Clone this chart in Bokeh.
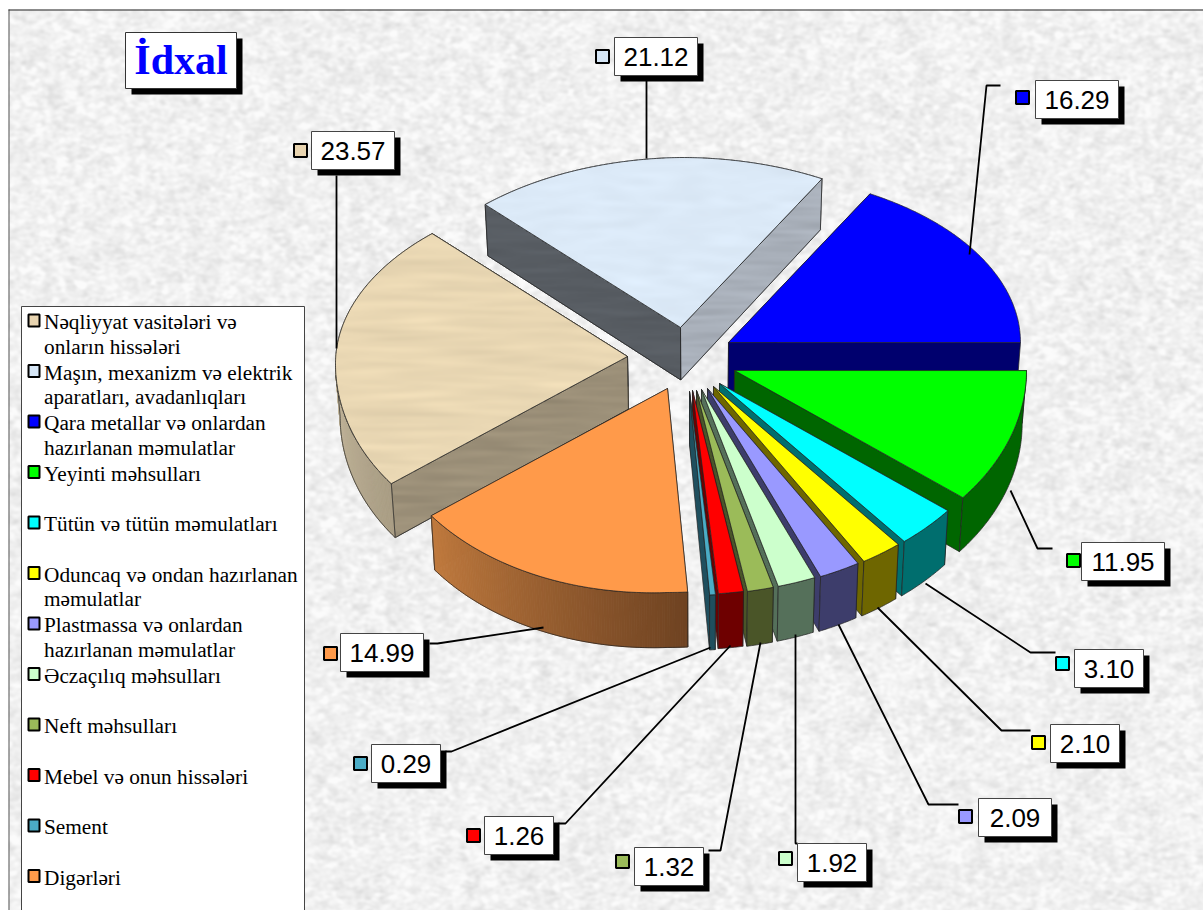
import numpy as np
from bokeh.plotting import figure
from bokeh.embed import file_html
from bokeh.resources import INLINE
from bokeh.core.properties import value

# ---- data ----
TITLE = "İdxal"
LEGEND_LINES = [
    ["Nəqliyyat vasitələri və", "onların hissələri"],
    ["Maşın, mexanizm və elektrik", "aparatları, avadanlıqları"],
    ["Qara metallar və onlardan", "hazırlanan məmulatlar"],
    ["Yeyinti məhsulları"],
    ["Tütün və tütün məmulatları"],
    ["Oduncaq və ondan hazırlanan", "məmulatlar"],
    ["Plastmassa və onlardan", "hazırlanan məmulatlar"],
    ["Əczaçılıq məhsulları"],
    ["Neft məhsulları"],
    ["Mebel və onun hissələri"],
    ["Sement"],
    ["Digərləri"],
]
VALUES = [23.57, 21.12, 16.29, 11.95, 3.10, 2.10, 2.09, 1.92, 1.32, 1.26, 0.29, 14.99]
TOP_COLORS = ["#EAD8B4", "#DCEAF8", "#0000FF", "#00FF00", "#00FFFF", "#FFFF00",
              "#9999FF", "#CCFFCC", "#9BBB59", "#FF0000", "#4BACC6", "#FF9A4A"]
WALL_START = ["#9C9079", "#585D63", "#00006E", "#006600", "#006E6E", "#6E6600",
              "#3D3D6B", "#55705A", "#4A5528", "#6E0000", "#1F4F5E", "#7A4A28"]
WALL_END = ["#9C9079", "#A9B0BA", "#00006E", "#006600", "#006E6E", "#6E6600",
            "#3D3D6B", "#55705A", "#4A5528", "#6E0000", "#1F4F5E", "#7A4A28"]
KEY_COLORS = ["#E8D4B0", "#D6E6F6", "#0000FF", "#00FF00", "#00FFFF", "#FFFF00",
              "#9999FF", "#CCFFCC", "#9BBB59", "#FF0000", "#4BACC6", "#FF9A4A"]

# ---- layout (page pixels, y down) ----
W, H = 1203, 910
CENTER = (695, 375)
EXPLODE = [(-68, -19), (-15, -48), (33, -33), (39, -5), (24, 8), (18, 11),
           (12, 13), (6, 14), (1, 15), (-3, 15), (-6, 16), (-28, 13)]
RX, RY_BACK, RY_FRONT, LEAN = 292, 170, 204, 0.013
SHEAR_MID, SHEAR_SPAN = 0.025, 0.01
DEPTH_Y = [181, 600]
DEPTH_V = [51, 55]
START = 144.0
WARP_D = [0, 85, 161, 219.5, 262.5, 306, 360]
WARP_T = [0, -0.85, -5.9, -3.5, -8, -4, 0]
DRAW_ORDER = [1, 2, 0, 3, 4, 5, 6, 7, 8, 9, 10, 11]

BOXES = [(311, 131, 83), (614, 37, 83), (1035, 80, 83), (1081, 542, 83), (1074, 649, 69),
         (1050, 724, 69), (978, 798, 73), (797, 843, 69), (634, 847, 69), (484, 816, 69),
         (371, 744, 69), (340, 633, 83)]
BOX_H = 38
KEYS = [(300, 150), (602, 56), (1022, 97), (1073, 560), (1062, 663), (1038, 742),
        (965, 816), (785, 858), (622, 861), (473, 835), (360, 763), (330, 653)]
LEADERS = [
    [(336, 175), (336, 348)],
    [(646, 79), (646, 158)],
    [(1000, 85), (986, 85), (969, 254)],
    [(1052, 548), (1037, 548), (1010, 490)],
    [(1055, 652), (1030, 652), (925, 583)],
    [(1030, 730), (1001, 730), (877, 607)],
    [(958, 804), (928, 804), (838, 624)],
    [(797, 843), (795, 843), (795, 634)],
    [(708, 850), (720, 850), (760, 642)],
    [(558, 823), (565, 823), (730, 645)],
    [(445, 751), (451, 751), (710, 647)],
    [(429, 643), (437, 643), (543, 627)],
]
LEG_X0, LEG_X1, LEG_Y0 = 21, 304, 306
LEG_STEP = 50.5
LEG_FIRST = 320
LEG_LINE = 24.6
FRAME_X, FRAME_Y = 8, 9


def Y(y):
    return 910 - np.asarray(y, dtype=float)


# the drawing already holds the picture's own white margin, so it sits at the window's origin
p = figure(width=W, height=H, x_range=(0, W), y_range=(0, H), toolbar_location=None,
           output_backend="svg", min_border=0, outline_line_color=None,
           styles={"position": "absolute", "left": "0px", "top": "0px"})
p.xaxis.visible = False
p.yaxis.visible = False
p.xgrid.visible = False
p.ygrid.visible = False


def noise(h, w, sx, sy, seed):
    yy, xx = np.mgrid[0:h, 0:w]
    n = np.sin(xx * 12.9898 + yy * 78.233 + seed * 3.17) * 43758.5453
    n = n - np.floor(n) - 0.5
    fy = np.fft.fftfreq(h)[:, None]
    fx = np.fft.fftfreq(w)[None, :]
    g = np.exp(-2 * np.pi ** 2 * ((fx * sx) ** 2 + (fy * sy) ** 2))
    n = np.real(np.fft.ifft2(np.fft.fft2(n) * g))
    return n / (n.std() + 1e-9)


def to_img(rgb, alpha=None):
    h, w = rgb.shape[:2]
    a = np.full((h, w), 255, dtype=np.uint32) if alpha is None else alpha.astype(np.uint32)
    c = np.clip(rgb, 0, 255).astype(np.uint32)
    return np.flipud(c[..., 0] | (c[..., 1] << 8) | (c[..., 2] << 16) | (a << 24))


# background texture
bg_n = 0.7 * noise(H, W, 2.0, 1.5, 1) + 0.4 * noise(H, W, 4, 3, 2)
bg = 241 + 6.5 * np.clip(bg_n, -3.0, 1.6)
bg_rgb = np.dstack([bg, bg, bg])
bg_rgb[:FRAME_Y, :] = 255
bg_rgb[:, :FRAME_X] = 255
p.image_rgba(image=[to_img(bg_rgb)], x=0, y=0, dw=W, dh=H)
p.line([FRAME_X + 0.5, FRAME_X + 0.5], [0, float(Y(FRAME_Y))], line_color="#555555", line_width=1)
p.line([FRAME_X, W], [float(Y(FRAME_Y)) - 0.5] * 2, line_color="#222222", line_width=1)


def in_poly(xs, ys, poly):
    X, Yy = np.meshgrid(xs, ys)
    m = np.zeros(X.shape, dtype=bool)
    px, py = poly[:, 0], poly[:, 1]
    qx, qy = np.roll(px, 1), np.roll(py, 1)
    for a, b, c, d in zip(px, py, qx, qy):
        if b == d:
            continue
        cond = (b > Yy) != (d > Yy)
        m ^= cond & (X < (c - a) * (Yy - b) / (d - b) + a)
    return m


def hex_rgb(c):
    return np.array([int(c[i:i + 2], 16) for i in (1, 3, 5)], dtype=float)


def textured(poly, color, amp, sx, sy, seed):
    poly = np.asarray(poly, dtype=float)
    x0, x1 = int(poly[:, 0].min()), int(poly[:, 0].max()) + 1
    y0, y1 = int(poly[:, 1].min()), int(poly[:, 1].max()) + 1
    xs, ys = np.arange(x0, x1) + 0.5, np.arange(y0, y1) + 0.5
    m = in_poly(xs, ys, poly)
    n = noise(y1 - y0, x1 - x0, sx, sy, seed)
    rgb = hex_rgb(color)[None, None, :] * (1 + amp * n[..., None])
    p.image_rgba(image=[to_img(rgb, m * 255)], x=x0, y=float(Y(y1)), dw=x1 - x0, dh=y1 - y0)


def draw(poly, color, line="#222222", lw=0.7):
    poly = np.asarray(poly, dtype=float)
    p.patch(poly[:, 0], Y(poly[:, 1]), fill_color=color, line_color=line, line_width=lw)


def outline(poly, line="#222222", lw=0.7):
    poly = np.asarray(poly, dtype=float)
    p.patch(poly[:, 0], Y(poly[:, 1]), fill_alpha=0, line_color=line, line_width=lw)


# ---- pie built from the values ----
vals = np.array(VALUES)
cum = np.concatenate([[0], np.cumsum(vals) / vals.sum() * 360])
ang = START + cum + np.interp(cum, WARP_D, WARP_T)


def rim(ax, ay, t):
    t = np.radians(t)
    s = np.sin(t)
    dx = RX * np.cos(t) * np.ones_like(t)
    shear = (SHEAR_MID + SHEAR_SPAN * s) * np.maximum(-dx, 0)
    return np.column_stack([ax + dx, ay + np.where(s < 0, RY_BACK, RY_FRONT) * s + shear])


def drop(pts):
    pts = np.atleast_2d(pts)
    return np.column_stack([pts[:, 0] + (CENTER[0] - pts[:, 0]) * LEAN,
                            pts[:, 1] + np.interp(pts[:, 1], DEPTH_Y, DEPTH_V)])


def mix(a, b, f):
    c = hex_rgb(a) * (1 - f) + hex_rgb(b) * f
    return "#%02x%02x%02x" % tuple(int(v) for v in c)


for i in DRAW_ORDER:
    t0, t1 = ang[i], ang[i + 1]
    ax, ay = CENTER[0] + EXPLODE[i][0], CENTER[1] + EXPLODE[i][1]
    apex = np.array([[ax, ay]])
    tt = np.linspace(t0, t1, max(int(abs(t1 - t0) * 2), 2) + 1)
    arc = rim(ax, ay, tt)
    walls = [(np.vstack([apex, arc[:1], drop(arc[:1]), drop(apex)]), WALL_START[i]),
             (np.vstack([apex, arc[-1:], drop(arc[-1:]), drop(apex)]), WALL_END[i])]
    walls.sort(key=lambda q: q[0][:, 1].mean())
    for q, c in walls:
        draw(q, c)
        if i in (0, 1):
            textured(q, c, 0.02, 18, 1.6, 10 + i)
            outline(q)
    # outer side: the part of the rim facing the viewer
    front = tt[np.sin(np.radians(tt)) >= -0.005]
    if len(front) > 1:
        top_pts = rim(ax, ay, front)
        bot_pts = drop(top_pts)
        if i in (0, 11):
            # shaded sides are built from slim strips following the rim
            ends = ("#6F4322", "#C07A3E") if i == 11 else ("#A99D84", "#C4B79C")
            n = len(front) - 1
            for k in range(n):
                col = mix(ends[0], ends[1], k / max(n - 1, 1))
                quad = np.vstack([top_pts[k:k + 2], bot_pts[k:k + 2][::-1]])
                p.patch(quad[:, 0], Y(quad[:, 1]), fill_color=col, line_color=col, line_width=0.9)
        else:
            draw(np.vstack([top_pts, bot_pts[::-1]]), WALL_END[i], line=None)
        outline(np.vstack([top_pts, bot_pts[::-1]]))
    top = np.vstack([apex, arc])
    draw(top, TOP_COLORS[i])
    if i == 0:
        textured(top, TOP_COLORS[i], 0.013, 20, 2, 21)
        outline(top)
    elif i == 1:
        textured(top, TOP_COLORS[i], 0.007, 10, 2.5, 22)
        outline(top)

# ---- leaders ----
for pts in LEADERS:
    a = np.array(pts, dtype=float)
    p.line(a[:, 0], Y(a[:, 1]), line_color="black", line_width=1.8)


def box(x0, y0, x1, y1, fill, line=None, lw=1):
    p.quad(left=[x0], right=[x1], top=[float(Y(y0))], bottom=[float(Y(y1))],
           fill_color=fill, line_color=line, line_width=lw)


# ---- value labels ----
for v, (bx, by, bw), (kx, ky), c in zip(VALUES, BOXES, KEYS, KEY_COLORS):
    box(bx + 6, by + 6, bx + bw + 6, by + BOX_H + 6, "black")
    box(bx, by, bx + bw, by + BOX_H, "white", "#444444", 1)
    box(kx - 6.5, ky - 6.5, kx + 6.5, ky + 6.5, c, "black", 2)
    p.text([bx + bw / 2], [float(Y(by + BOX_H / 2 + 0.5))], text=[f"{v:.2f}"],
           text_font=value("Liberation Sans"), text_font_size="26px", text_color="black",
           text_align="center", text_baseline="middle")

# ---- title ----
box(131, 38, 242, 94, "black")
box(125, 32, 236, 88, "white", "#333333", 1)
p.text([180.5], [float(Y(59))], text=[TITLE], text_font=value("Liberation Serif"),
       text_font_size="42px", text_font_style="bold", text_color="#0000FF",
       text_align="center", text_baseline="middle")

# ---- legend ----
box(LEG_X0, LEG_Y0, LEG_X1, 925, "white", "#444444", 1)
for i, (lines, c) in enumerate(zip(LEGEND_LINES, KEY_COLORS)):
    y = LEG_FIRST + i * LEG_STEP
    box(33.5 - 5.5, y - 6, 33.5 + 5.5, y + 6, c, "black", 2)
    for j, s in enumerate(lines):
        p.text([43.5], [float(Y(y + 1.5 + j * LEG_LINE))], text=[s],
               text_font=value("Liberation Serif"), text_font_size="21.3px", text_color="black",
               text_align="left", text_baseline="middle")

open("out.html", "w").write(file_html(p, INLINE))
